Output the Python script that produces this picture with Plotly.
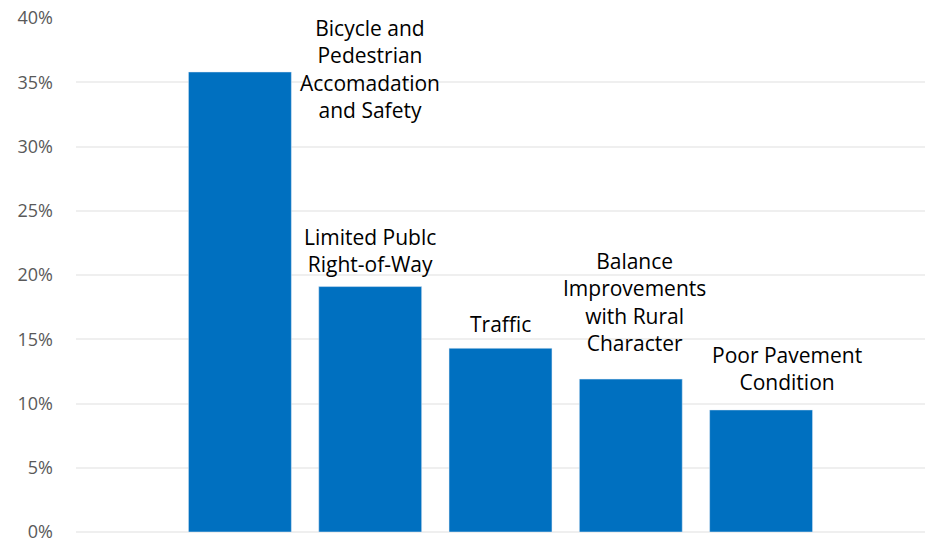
import plotly.graph_objects as go

categories = ["Bicycle and<br>Pedestrian<br>Accomadation<br>and Safety",
              "Limited Publc<br>Right-of-Way",
              "Traffic",
              "Balance<br>Improvements<br>with Rural<br>Character",
              "Poor Pavement<br>Condition"]
values = [35.8, 19.1, 14.3, 11.9, 9.5]
tick_vals = [0, 5, 10, 15, 20, 25, 30, 35, 40]
tick_text = [f"{v}%" for v in tick_vals]

# label placement (category index offset, y in %)
label_dx = [1.0, 0.0, 0.0, 0.03, 0.2]
label_y = [36.0, 21.9, 16.2, 17.9, 12.7]

x = list(range(len(values)))

fig = go.Figure(go.Bar(x=x, y=values, marker_color="#0070c0", width=0.79,
                       hoverinfo="skip"))

for i, txt in enumerate(categories):
    fig.add_annotation(x=i + label_dx[i], y=label_y[i], text=txt, showarrow=False,
                       xanchor="center", yanchor="middle", align="center",
                       font=dict(family="Open Sans", size=21, color="#000000"))

fig.update_layout(
    width=928, height=544,
    margin=dict(l=76, r=3, t=18, b=12),
    paper_bgcolor="white", plot_bgcolor="white",
    showlegend=False,
    xaxis=dict(range=[-1.258, 5.258], showticklabels=False, showgrid=False,
               zeroline=False, fixedrange=True),
    yaxis=dict(range=[0, 40], tickvals=tick_vals, ticktext=tick_text,
               showgrid=True, gridcolor="#efefef", gridwidth=1.5,
               zeroline=True, zerolinecolor="#efefef", zerolinewidth=1.5,
               ticks="", ticklabelstandoff=22, ticklabeloverflow="allow",
               automargin=False,
               tickfont=dict(family="Open Sans", size=18, color="#595959")),
)

fig.write_html("out.html", config={"displayModeBar": False},
               post_script="document.body.style.margin='0';")
